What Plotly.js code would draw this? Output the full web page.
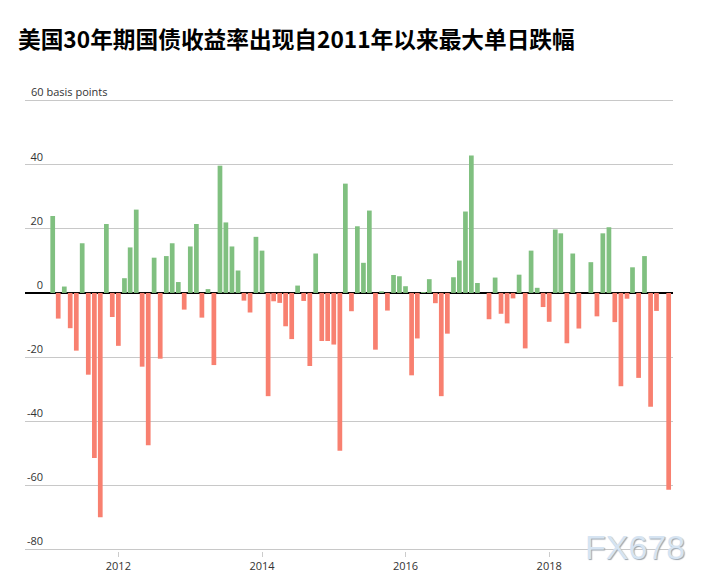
<!DOCTYPE html>
<html>
<head>
<meta charset="utf-8">
<script src="https://cdn.plot.ly/plotly-3.0.1.min.js"></script>
<style>
  html, body { margin: 0; padding: 0; background: #ffffff; }
  #chart { width: 714px; height: 584px; }
</style>
</head>
<body>
<div id="chart"></div>
<script>
// Monthly data (basis points), Jan 2011 – Aug 2019
const months = [
  "2011-01","2011-02","2011-03","2011-04","2011-05","2011-06","2011-07","2011-08","2011-09","2011-10","2011-11","2011-12",
  "2012-01","2012-02","2012-03","2012-04","2012-05","2012-06","2012-07","2012-08","2012-09","2012-10","2012-11","2012-12",
  "2013-01","2013-02","2013-03","2013-04","2013-05","2013-06","2013-07","2013-08","2013-09","2013-10","2013-11","2013-12",
  "2014-01","2014-02","2014-03","2014-04","2014-05","2014-06","2014-07","2014-08","2014-09","2014-10","2014-11","2014-12",
  "2015-01","2015-02","2015-03","2015-04","2015-05","2015-06","2015-07","2015-08","2015-09","2015-10","2015-11","2015-12",
  "2016-01","2016-02","2016-03","2016-04","2016-05","2016-06","2016-07","2016-08","2016-09","2016-10","2016-11","2016-12",
  "2017-01","2017-02","2017-03","2017-04","2017-05","2017-06","2017-07","2017-08","2017-09","2017-10","2017-11","2017-12",
  "2018-01","2018-02","2018-03","2018-04","2018-05","2018-06","2018-07","2018-08","2018-09","2018-10","2018-11","2018-12",
  "2019-01","2019-02","2019-03","2019-04","2019-05","2019-06","2019-07","2019-08"
];
const values2011 = [24, -8, 2, -11, -18, 15.5, -25.5, -51.5, -70, 21.5, -7.5, -16.5];
const values2012 = [4.6, 14.2, 26, -23, -47.5, 11, -20.5, 11.5, 15.5, 3.4, -5.2, 14.5];
const values2013 = [21.5, -7.7, 1.2, -22.5, 39.7, 22, 14.5, 7, -2.4, -6.1, 17.5, 13.2];
const values2014 = [-32.2, -2.6, -3.1, -10.4, -14.4, 2.3, -2.5, -22.8, 12.3, -15, -15, -16.1];
const values2015 = [-49.2, 34.1, -5.7, 20.8, 9.4, 25.7, -17.7, 0.5, -5.5, 5.6, 5.2, 2.1];
const values2016 = [-25.7, -14.2, 0.3, 4.3, -3.2, -32.2, -12.7, 4.9, 10.1, 25.4, 42.9, 3.1];
const values2017 = [null, -8.2, 4.8, -6.5, -9.5, -1.7, 5.7, -17.3, 13.2, 1.6, -4.4, -9];
const values2018 = [19.8, 18.6, -15.7, 12.3, -11.1, null, 9.6, -7.3, 18.6, 20.5, -9.1, -29.1];
const values2019 = [-1.8, 8, -26.5, 11.5, -35.5, -5.6, null, -61.4];

const values = [].concat(values2011, values2012, values2013, values2014, values2015,
                         values2016, values2017, values2018, values2019);

const yTickVals = [-80, -60, -40, -20, 0, 20, 40, 60];
const yTickText = ["-80", "-60", "-40", "-20", "0", "20", "40", ""];
const xTickYears = ["2012", "2014", "2016", "2018"];

const titleText = "美国30年期国债收益率出现自2011年以来最大单日跌幅";
const unitLabel = "60 basis points";
const watermark = "FX678";

const GREEN = "#80c080";
const RED = "#f88070";

const colors = values.map(v => (v !== null && v < 0) ? RED : GREEN);

const trace = {
  type: "bar",
  x: months,
  y: values,
  xperiod: "M1",
  xperiodalignment: "end",
  width: 24 * 86400000,
  marker: { color: colors, line: { width: 0 } },
  hoverinfo: "skip"
};

const layout = {
  width: 714,
  height: 584,
  margin: { l: 25, r: 41, t: 99, b: 33 },
  paper_bgcolor: "#ffffff",
  plot_bgcolor: "#ffffff",
  showlegend: false,
  font: { family: "Open Sans, sans-serif", size: 11, color: "#333333" },
  title: {
    text: titleText,
    font: { family: "Noto Sans CJK SC, sans-serif", size: 22.7, color: "#000000", weight: "bold" },
    xref: "container", x: 18 / 714, xanchor: "left",
    yref: "container", y: 1 - 40 / 584, yanchor: "middle"
  },
  xaxis: {
    type: "date",
    range: ["2010-09-13", "2019-09-23"],
    tickmode: "array",
    tickvals: xTickYears.map(y => y + "-01-01"),
    ticktext: xTickYears,
    ticks: "outside",
    ticklen: 5,
    tickwidth: 1,
    tickcolor: "#cccccc",
    showgrid: false,
    showline: false,
    zeroline: false,
    tickfont: { family: "Open Sans, sans-serif", size: 11, color: "#333333" }
  },
  yaxis: {
    range: [-80.5, 60.5],
    tickmode: "array",
    tickvals: yTickVals,
    ticktext: yTickText,
    showgrid: true,
    gridcolor: "#c8c8c8",
    gridwidth: 1,
    zeroline: true,
    zerolinecolor: "#000000",
    zerolinewidth: 2,
    showline: false,
    ticks: "",
    ticklabelposition: "outside",
    ticklabelstandoff: -19,
    ticklabelshift: -8,
    tickfont: { family: "Open Sans, sans-serif", size: 11, color: "#333333" }
  },
  annotations: [
    {
      text: unitLabel,
      xref: "paper", x: 0, xanchor: "left", xshift: 4,
      yref: "y", y: 60, yanchor: "bottom", yshift: 0,
      showarrow: false,
      font: { family: "Open Sans, sans-serif", size: 11, color: "#333333" }
    },
    {
      text: watermark,
      xref: "paper", x: 1, xanchor: "right", xshift: 14,
      yref: "paper", y: 0, yanchor: "middle", yshift: 4,
      showarrow: false,
      font: { family: "Liberation Sans, Arial, sans-serif", size: 34, color: "#d6e4f2", shadow: "1px 1px 1px #9aa4ae" }
    }
  ]
};

Plotly.newPlot("chart", [trace], layout, { displayModeBar: false, staticPlot: true });
</script>
</body>
</html>
